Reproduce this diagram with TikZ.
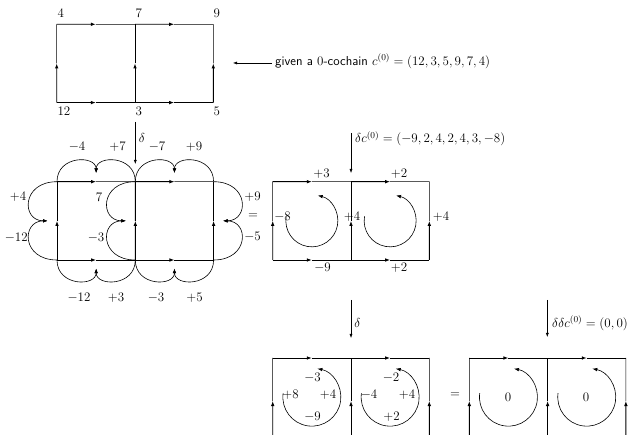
\RequirePackage{fix-cm}
\documentclass[tikz,border=0pt]{standalone}
\usetikzlibrary{arrows.meta,calc}
\tikzset{
  thickpart/.style={line width=0.9pt,-{Latex[length=5pt,width=3.6pt]}},
  thickline/.style={line width=0.9pt},
  thinline/.style={line width=0.45pt},
  loopline/.style={line width=0.6pt,-{Latex[length=4.5pt,width=3.5pt]}},
  circarrow/.style={line width=0.6pt,-{Latex[length=5pt,width=3.5pt]}},
  maparrow/.style={line width=0.5pt,-{Latex[length=4pt,width=3pt]}},
  lbl/.style={inner sep=0pt},
}
\newcommand\halfedge[2]{%
  \draw[thickpart] (#1) -- ($(#1)!0.5!(#2)$);
  \draw[thinline] ($(#1)!0.5!(#2)$) -- (#2);
}
% name, x, y (top-left), height
\newcommand\mkgrid[4]{%
  \coordinate (#1tl) at (#2,#3);
  \coordinate (#1tm) at ($(#1tl)+(78.3,0)$);
  \coordinate (#1tr) at ($(#1tl)+(156.6,0)$);
  \coordinate (#1bl) at ($(#1tl)+(0,#4)$);
  \coordinate (#1bm) at ($(#1tl)+(78.3,#4)$);
  \coordinate (#1br) at ($(#1tl)+(156.6,#4)$);
  \coordinate (#1c1) at ($(#1tl)+(39.15,39.15)$);
  \coordinate (#1c2) at ($(#1tm)+(39.15,39.15)$);
  \halfedge{#1bl}{#1tl}
  \halfedge{#1tl}{#1tm}
  \halfedge{#1tm}{#1tr}
  \halfedge{#1bl}{#1bm}
  \halfedge{#1bm}{#1br}
  \halfedge{#1br}{#1tr}
  \draw[thickpart] (#1bm) -- ($(#1bm)!0.5!(#1tm)$);
  \draw[thickline] ($(#1bm)!0.5!(#1tm)$) -- (#1tm);
}
\begin{document}
\begin{tikzpicture}[x=1pt,y=-1pt,font=\fontsize{13}{15.6}\selectfont]
\useasboundingbox (0,0) rectangle (629,435);
\clip (0,0) rectangle (629,435);

% ---------- grid with the 0-cochain ----------
\mkgrid{G}{56.7}{24.3}{78.3}
\node[lbl,anchor=west] (g4) at (57.3,13.3) {$4$};
\node[lbl,anchor=west] (g7) at (135.5,13.3) {$7$};
\node[lbl,anchor=west] (g9) at (213.3,13.3) {$9$};
\node[lbl,anchor=west] (g12) at (57.3,111.7) {$12$};
\node[lbl,anchor=west] (g3) at (135.5,111.7) {$3$};
\node[lbl,anchor=west] (g5) at (213.3,111.7) {$5$};

\node[lbl,anchor=base west] (given) at (275,65.5) {\textsf{given a $0$-cochain} $c^{(0)} = (12,3,5,9,7,4)$};
\coordinate (gtip) at (233,63);
\draw[maparrow,shorten <=3pt] (given.west |- gtip) -- (gtip);

% ---------- delta arrow ----------
\coordinate (d1s) at (135.3,122);
\coordinate (d1e) at (135.3,164);
\draw[maparrow] (d1s) -- (d1e);
\node[lbl] (d1l) at (142,138) {$\delta$};

% ---------- loops ----------
\mkgrid{L}{57}{181.7}{78.3}
\coordinate (Lct1) at ($(Ltl)!0.5!(Ltm)+(0,-8.7)$);
\coordinate (Lct2) at ($(Ltm)!0.5!(Ltr)+(0,-8.7)$);
\coordinate (Lcb1) at ($(Lbl)!0.5!(Lbm)+(0,8.7)$);
\coordinate (Lcb2) at ($(Lbm)!0.5!(Lbr)+(0,8.7)$);
\coordinate (Lcl) at ($(Ltl)!0.5!(Lbl)+(-9.5,0)$);
\coordinate (Lcm) at ($(Ltm)!0.5!(Lbm)+(-9.5,0)$);
\coordinate (Lcr) at ($(Ltr)!0.5!(Lbr)+(9.5,0)$);

\draw[loopline] (Ltl) .. controls +(0,-26.7) and +(0,-18) .. (Lct1);
\draw[loopline] (Ltm) .. controls +(0,-26.7) and +(0,-18) .. (Lct1);
\draw[loopline] (Ltm) .. controls +(0,-26.7) and +(0,-18) .. (Lct2);
\draw[loopline] (Ltr) .. controls +(0,-26.7) and +(0,-18) .. (Lct2);
\draw[loopline] (Lbl) .. controls +(0,26.7) and +(0,18) .. (Lcb1);
\draw[loopline] (Lbm) .. controls +(0,26.7) and +(0,18) .. (Lcb1);
\draw[loopline] (Lbm) .. controls +(0,26.7) and +(0,18) .. (Lcb2);
\draw[loopline] (Lbr) .. controls +(0,26.7) and +(0,18) .. (Lcb2);
\draw[loopline] (Ltl) .. controls +(-35.75,0) and +(-26.25,0) .. (Lcl);
\draw[loopline] (Lbl) .. controls +(-35.75,0) and +(-26.25,0) .. (Lcl);
\draw[loopline] (Ltm) .. controls +(-35.75,0) and +(-26.25,0) .. (Lcm);
\draw[loopline] (Lbm) .. controls +(-35.75,0) and +(-26.25,0) .. (Lcm);
\draw[loopline] (Ltr) .. controls +(35.75,0) and +(26.25,0) .. (Lcr);
\draw[loopline] (Lbr) .. controls +(35.75,0) and +(26.25,0) .. (Lcr);

\node[lbl] (lt1) at (77,146.7) {$-4$};
\node[lbl] (lt2) at (117.5,146.7) {$+7$};
\node[lbl] (lt3) at (157,146.7) {$-7$};
\node[lbl] (lt4) at (194,146.7) {$+9$};
\node[lbl] (lb1) at (79,297.5) {$-12$};
\node[lbl] (lb2) at (116,297.5) {$+3$};
\node[lbl] (lb3) at (156,297.5) {$-3$};
\node[lbl] (lb4) at (194.5,297.5) {$+5$};
\node[lbl] (ll1) at (18,197.3) {$+4$};
\node[lbl] (ll2) at (16.3,237.7) {$-12$};
\node[lbl] (lm1) at (99,197.3) {$7$};
\node[lbl] (lm2) at (96,237.7) {$-3$};
\node[lbl] (lr1) at (252.5,197.3) {$+9$};
\node[lbl] (lr2) at (252.5,237.3) {$-5$};
\node[lbl] (eq1) at (253,216.5) {$=$};

% ---------- 1-cochain ----------
\mkgrid{R}{272.7}{181.7}{78.3}
\coordinate (d2s) at (351,133);
\coordinate (d2e) at (351,173);
\draw[maparrow] (d2s) -- (d2e);
\node[lbl,anchor=base west] (d2l) at (355,143) {$\delta c^{(0)} = (-9,2,4,2,4,3,-8)$};
\draw[circarrow] ([shift={(-170:26)}]Rc1) arc[start angle=-170,end angle=-437,radius=26];
\draw[circarrow] ([shift={(-170:26)}]Rc2) arc[start angle=-170,end angle=-437,radius=26];
\node[lbl] (r1) at (321.5,174) {$+3$};
\node[lbl] (r2) at (399,174) {$+2$};
\node[lbl] (r3) at (322.5,268.3) {$-9$};
\node[lbl] (r4) at (399,268.3) {$+2$};
\node[lbl] (r5) at (282.5,217.3) {$-8$};
\node[lbl] (r6) at (352,217.3) {$+4$};
\node[lbl] (r7) at (441,217.3) {$+4$};

% ---------- second delta ----------
\coordinate (d3s) at (351,300);
\coordinate (d3e) at (351,338);
\draw[maparrow] (d3s) -- (d3e);
\node[lbl] (d3l) at (357.5,323) {$\delta$};

\mkgrid{S}{272.7}{358}{86}
\draw[circarrow] ([shift={(-172:29)}]Sc1) arc[start angle=-172,end angle=-439,radius=29];
\draw[circarrow] ([shift={(-172:29)}]Sc2) arc[start angle=-172,end angle=-439,radius=29];
\node[lbl] (s1) at (312.5,378.3) {$-3$};
\node[lbl] (s2) at (290.5,395) {$+8$};
\node[lbl] (s3) at (328,395) {$+4$};
\node[lbl] (s4) at (312.5,416.7) {$-9$};
\node[lbl] (s5) at (391,378.3) {$-2$};
\node[lbl] (s6) at (369,395) {$-4$};
\node[lbl] (s7) at (407,395) {$+4$};
\node[lbl] (s8) at (391.5,416.7) {$+2$};
\node[lbl] (eq2) at (455,395) {$=$};

% ---------- delta delta ----------
\coordinate (d4s) at (547.3,300);
\coordinate (d4e) at (547.3,337);
\draw[maparrow] (d4s) -- (d4e);
\node[lbl,anchor=base west] (d4l) at (552,327.5) {$\delta\delta c^{(0)} = (0,0)$};

\mkgrid{T}{469.3}{358}{86}
\draw[circarrow] ([shift={(-172:29)}]Tc1) arc[start angle=-172,end angle=-439,radius=29];
\draw[circarrow] ([shift={(-172:29)}]Tc2) arc[start angle=-172,end angle=-439,radius=29];
\node[lbl] (t1) at (508,397) {$0$};
\node[lbl] (t2) at (586,397) {$0$};
\end{tikzpicture}
\end{document}
